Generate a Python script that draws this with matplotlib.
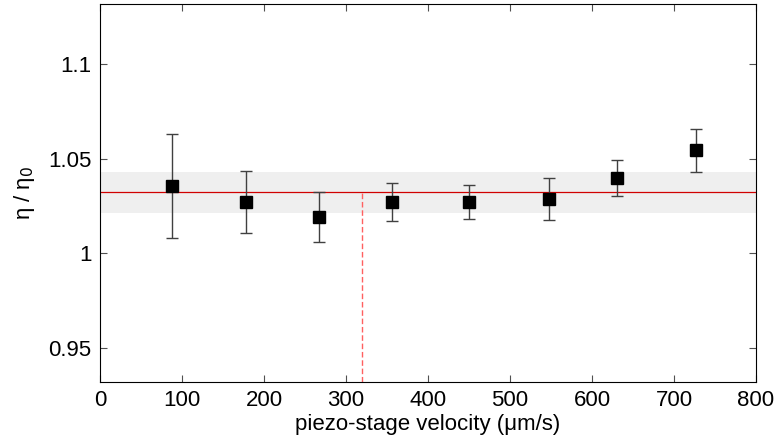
import numpy as np
import matplotlib
matplotlib.use('Agg')
import matplotlib.pyplot as plt

plt.rcParams['font.family'] = ['Liberation Sans', 'DejaVu Sans']

# velocidades e viscosidade relativa
velocidade = [88, 178.5, 267.5, 356.5, 449.5, 547.5, 630.5, 726.5]
eta_rel = [1.0357, 1.0269, 1.0192, 1.0270, 1.0270, 1.0286, 1.0399, 1.0545]
erro_sup = [1.0631, 1.0436, 1.0325, 1.0370, 1.0361, 1.0399, 1.0495, 1.0658]
erro_inf = [1.0080, 1.0106, 1.0057, 1.0171, 1.0182, 1.0177, 1.0304, 1.0430]

media = 1.0322
desvio = 0.0108
v_limite = 320

eta = np.array(eta_rel)
yerr = [eta - np.array(erro_inf), np.array(erro_sup) - eta]

fig = plt.figure(figsize=(7.78, 4.43), dpi=100)
ax = fig.add_axes([100 / 778, 1 - 381.5 / 443, 656 / 778, 377.5 / 443])

ax.axhspan(media - desvio, media + desvio, color='#efefef', zorder=0, lw=0)
ax.axhline(media, color='#d00000', lw=0.9, zorder=1)
ax.plot([v_limite, v_limite], [0.932, media], color='#ff6060', lw=1.0,
        ls=(0, (4, 2)), zorder=1)

ax.errorbar(velocidade, eta, yerr=yerr, fmt='s', color='black', ms=8.5,
            ecolor='#404040', elinewidth=1.0, capsize=4, capthick=1.0, zorder=3)

ax.set_xlim(0, 800)
ax.set_ylim(0.932, 1.132)
ax.set_xticks(range(0, 801, 100))
ax.set_yticks([0.95, 1.0, 1.05, 1.1])
ax.set_yticklabels(['0.95', '1', '1.05', '1.1'])
ax.tick_params(direction='in', top=True, right=True, labelsize=16, length=5,
               color='#505050', pad=6)
for s in ax.spines.values():
    s.set_color('black')
    s.set_linewidth(0.8)

ax.set_xlabel('piezo-stage velocity (\u03bcm/s)', fontsize=16, labelpad=2)
ax.set_ylabel('\u03b7 / \u03b7$_0$', fontsize=16, labelpad=8)

plt.savefig('out.png', dpi=100)
